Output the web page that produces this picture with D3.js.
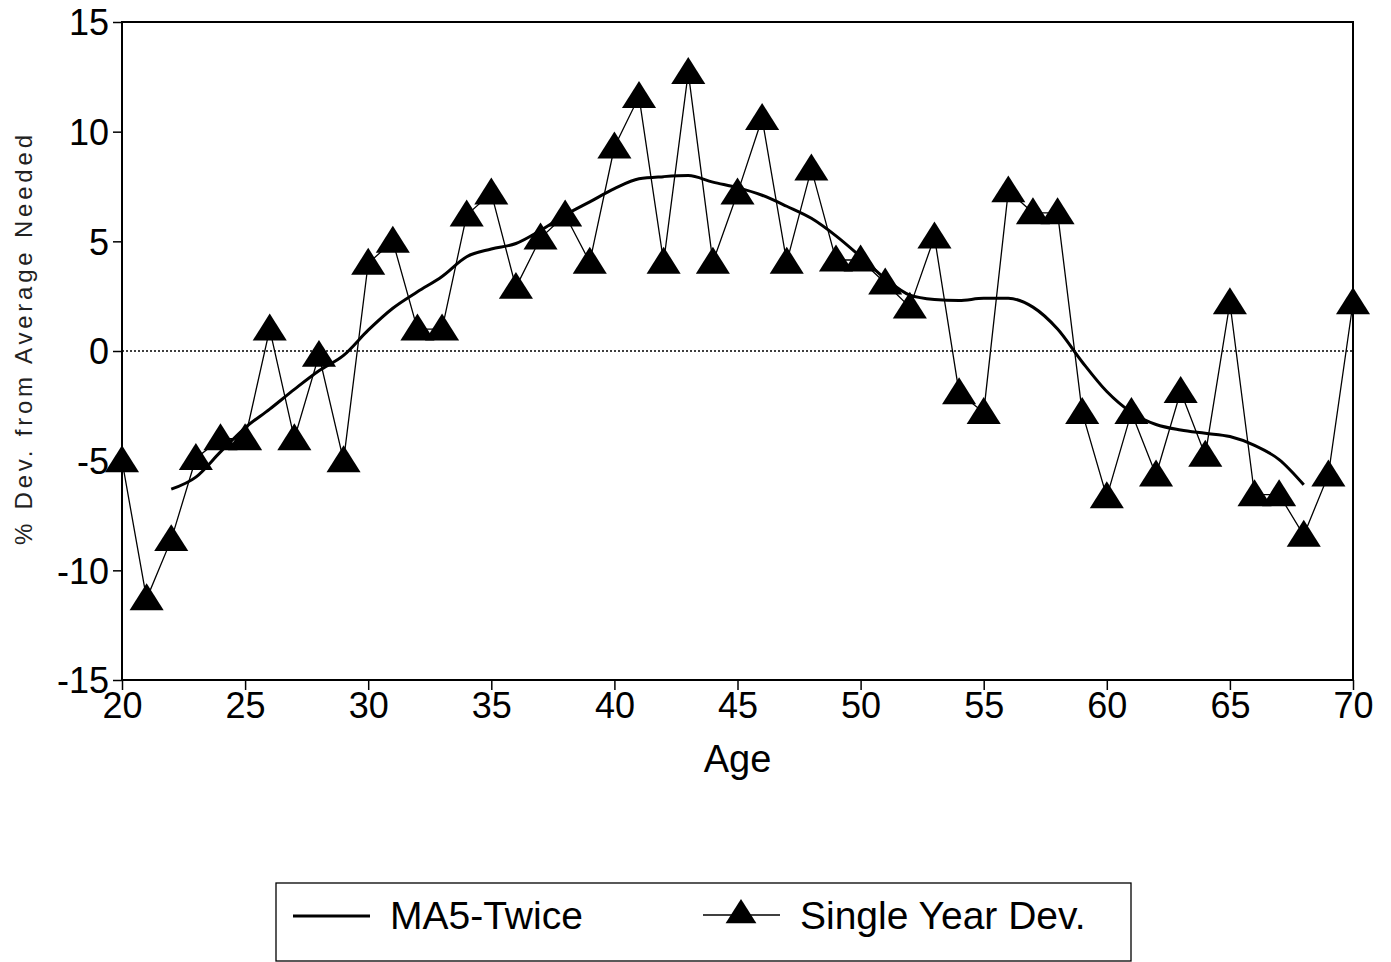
<!DOCTYPE html>
<meta charset="utf-8">
<style>
  body { margin: 0; background: #fff; }
  svg { font-family: "Liberation Sans", Arial, sans-serif; }
</style>
<div id="chart"></div>
<script src="https://d3js.org/d3.v7.min.js"></script>
<script>

// ages 20..70, one point per year
var ages = d3.range(20, 71);
var singleDev = [-5.0, -11.3, -8.6, -4.9, -4.0, -4.0, 1.0, -4.0, -0.2, -5.0,
                 4.0, 5.0, 1.0, 1.0, 6.2, 7.2, 2.9, 5.15, 6.2, 4.05,
                 9.3, 11.6, 4.05, 12.7, 4.05, 7.2, 10.6, 4.05, 8.3, 4.15,
                 4.15, 3.1, 2.0, 5.2, -1.9, -2.8, 7.3, 6.3, 6.3, -2.8,
                 -6.65, -2.8, -5.65, -1.85, -4.75, 2.2, -6.55, -6.55, -8.4, -5.65,
                 2.2];

// moving average only covers ages 22..68
var maAges = d3.range(22, 69);
var ma5Twice = [-6.3, -5.75, -4.6, -3.5, -2.65, -1.75, -0.9, -0.2, 0.95, 1.95,
                2.7, 3.4, 4.3, 4.65, 4.9, 5.5, 6.2, 6.8, 7.4, 7.85,
                7.95, 8.0, 7.7, 7.45, 7.1, 6.6, 6.05, 5.25, 4.3, 3.3,
                2.55, 2.35, 2.3, 2.4, 2.4, 2.0, 1.0, -0.5, -1.85, -2.8,
                -3.35, -3.6, -3.75, -3.9, -4.3, -4.95, -6.1];

var xTicks = [20, 25, 30, 35, 40, 45, 50, 55, 60, 65, 70];
var yTicks = [-15, -10, -5, 0, 5, 10, 15];
var seriesNames = ["MA5-Twice", "Single Year Dev."];

var width = 1391, height = 962;
var plotL = 122, plotR = 1353, plotT = 22, plotB = 680;

var svg = d3.select("#chart").append("svg")
    .attr("width", width)
    .attr("height", height);

var x = d3.scaleLinear().domain([20, 70]).range([plotL, plotR]);
var y = d3.scaleLinear().domain([-15, 15]).range([plotB, plotT]);

// triangle marker, centred on the point
var tri = function(s) {
  return "M0," + (-s * 0.5) + "L" + (s * 0.55) + "," + (s * 0.37) + "L" + (-s * 0.55) + "," + (s * 0.37) + "Z";
};

// zero reference line
svg.append("line")
    .attr("x1", x(20)).attr("x2", x(70))
    .attr("y1", y(0)).attr("y2", y(0))
    .attr("stroke", "#000")
    .attr("stroke-width", 1.3)
    .attr("stroke-dasharray", "2,2");

// axes
var yAxis = svg.append("g")
    .attr("transform", "translate(" + plotL + ",0)")
    .call(d3.axisLeft(y).tickValues(yTicks).tickSize(9).tickPadding(4));

var xAxis = svg.append("g")
    .attr("transform", "translate(0," + plotB + ")")
    .call(d3.axisBottom(x).tickValues(xTicks).tickSize(10).tickPadding(3));

[xAxis, yAxis].forEach(function(a) {
  a.select(".domain").remove();
  a.selectAll("line").attr("stroke", "#000").attr("stroke-width", 1.5);
  a.selectAll("text").attr("fill", "#000").attr("font-size", 36)
      .attr("font-family", "'Liberation Sans', Arial, sans-serif");
});
yAxis.selectAll("text").attr("dy", "0.36em").text(function(d) { return d < 0 ? "-" + Math.abs(d) : d; });
xAxis.selectAll("text").attr("dy", "0.7em");

// frame
svg.append("rect")
    .attr("x", plotL).attr("y", plotT)
    .attr("width", plotR - plotL).attr("height", plotB - plotT)
    .attr("fill", "none")
    .attr("stroke", "#000")
    .attr("stroke-width", 2);

// axis titles
svg.append("text")
    .attr("x", (plotL + plotR) / 2)
    .attr("y", 772)
    .attr("text-anchor", "middle")
    .attr("font-size", 38)
    .text("Age");

svg.append("text")
    .attr("transform", "translate(32,340)rotate(-90)")
    .attr("text-anchor", "middle")
    .attr("font-size", 24)
    .attr("fill", "#222")
    .attr("textLength", 410)
    .attr("lengthAdjust", "spacing")
    .text("% Dev. from Average Needed");

// single year deviation
var single = ages.map(function(a, i) { return {age: a, v: singleDev[i]}; });
var ma = maAges.map(function(a, i) { return {age: a, v: ma5Twice[i]}; });

svg.append("path")
    .datum(single)
    .attr("fill", "none")
    .attr("stroke", "#000")
    .attr("stroke-width", 1.3)
    .attr("d", d3.line().x(function(d) { return x(d.age); }).y(function(d) { return y(d.v); }));

svg.append("path")
    .datum(ma)
    .attr("fill", "none")
    .attr("stroke", "#000")
    .attr("stroke-width", 3)
    .attr("d", d3.line().curve(d3.curveMonotoneX).x(function(d) { return x(d.age); }).y(function(d) { return y(d.v); }));

svg.append("g")
    .selectAll("path")
    .data(single)
    .enter().append("path")
    .attr("transform", function(d) { return "translate(" + x(d.age) + "," + y(d.v) + ")"; })
    .attr("d", tri(31))
    .attr("fill", "#000");

// legend
var legend = svg.append("g");
legend.append("rect")
    .attr("x", 276).attr("y", 883)
    .attr("width", 855).attr("height", 78)
    .attr("fill", "none")
    .attr("stroke", "#000")
    .attr("stroke-width", 1.3);

legend.append("line")
    .attr("x1", 293).attr("x2", 370)
    .attr("y1", 916).attr("y2", 916)
    .attr("stroke", "#000").attr("stroke-width", 3);
legend.append("text")
    .attr("x", 390).attr("y", 929)
    .attr("font-size", 39)
    .text(seriesNames[0]);

legend.append("line")
    .attr("x1", 703).attr("x2", 780)
    .attr("y1", 915).attr("y2", 915)
    .attr("stroke", "#000").attr("stroke-width", 1.3);
legend.append("path")
    .attr("transform", "translate(741,913)")
    .attr("d", tri(28))
    .attr("fill", "#000");
legend.append("text")
    .attr("x", 800).attr("y", 929)
    .attr("font-size", 39)
    .text(seriesNames[1]);

</script>
